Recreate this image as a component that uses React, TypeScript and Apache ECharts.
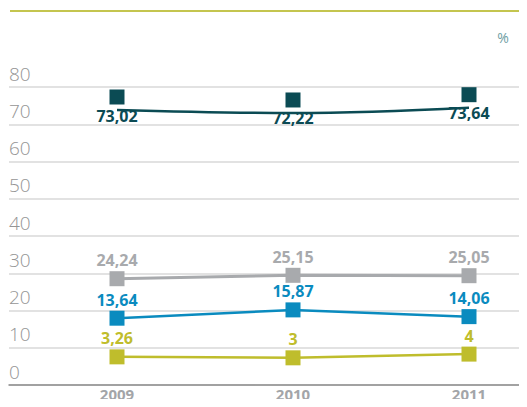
import React, { useEffect, useRef } from "react";
import * as echarts from "echarts";

const years = ["2009", "2010", "2011"];
const seriesDark = [73.02, 72.22, 73.64];
const seriesGrey = [24.24, 25.15, 25.05];
const seriesBlue = [13.64, 15.87, 14.06];
const seriesOlive = [3.26, 3, 4];
const yTicks = [0, 80, 10]; // min, max, interval

const C_DARK = "#0b4b54";
const C_GREY = "#a8aaad";
const C_BLUE = "#0a8bbf";
const C_OLIVE = "#bfbd2c";

const fmt = (v: number) => String(v).replace(".", ",");

export default function App() {
  const ref = useRef<HTMLDivElement>(null);
  useEffect(() => {
    if (!ref.current) return;
    const chart = echarts.init(ref.current, null, { renderer: "svg" });
    const font = "'Open Sans', 'Noto Sans', sans-serif";
    const dataGrid = { left: 117, right: 58, top: 71, height: 298 };
    const catAxis = (gridIndex: number, showLabels: boolean) => ({
      type: "category",
      gridIndex,
      data: years,
      boundaryGap: false,
      axisLine: { show: false },
      axisTick: { show: false },
      splitLine: { show: false },
      axisLabel: showLabels
        ? { show: true, margin: 17, color: "#a3a5a8", fontSize: 15, fontWeight: "bold", fontFamily: font }
        : { show: false },
    });
    const valAxis = (gridIndex: number) => ({
      type: "value",
      gridIndex,
      min: yTicks[0],
      max: yTicks[1],
      interval: yTicks[2],
      axisLine: { show: false },
      axisTick: { show: false },
      splitLine: { show: false },
      axisLabel: { show: false },
    });
    const lbl = (color: string, position: string) => ({
      show: true,
      position,
      distance: 3,
      color,
      fontSize: 16,
      fontWeight: "bold",
      fontFamily: font,
      formatter: (p: any) => fmt(p.value),
    });
    const mkLine = (data: number[], color: string, width: number, pos: string) => ({
      type: "line",
      xAxisIndex: 1,
      yAxisIndex: 1,
      data,
      symbol: "rect",
      symbolSize: 15,
      itemStyle: { color, opacity: 1 },
      lineStyle: { color, width },
      label: lbl(color, pos),
      z: 3,
    });
    chart.setOption({
      animation: false,
      grid: [
        { left: 9, right: 0, top: 87, height: 298 },
        dataGrid,
        { ...dataGrid, top: 71 + 13 },
      ],
      xAxis: [
        {
          type: "value",
          gridIndex: 0,
          min: 0,
          max: 1,
          axisLine: { show: true, onZero: false, lineStyle: { color: "#8c8c8c", width: 1.5 } },
          axisTick: { show: false },
          axisLabel: { show: false },
          splitLine: { show: false },
        },
        catAxis(1, true),
        catAxis(2, false),
      ],
      yAxis: [
        {
          type: "value",
          gridIndex: 0,
          min: yTicks[0],
          max: yTicks[1],
          interval: yTicks[2],
          axisLine: { show: false },
          axisTick: { show: false },
          splitLine: { show: true, lineStyle: { color: "#d9d9d9", width: 1.5 } },
          axisLabel: {
            show: true,
            inside: true,
            margin: 0,
            verticalAlign: "bottom",
            padding: [0, 0, 4, 0],
            color: "#959595",
            fontSize: 19,
            fontWeight: 300,
            fontFamily: font,
          },
        },
        valAxis(1),
        valAxis(2),
      ],
      graphic: [
        {
          type: "line",
          shape: { x1: 10, y1: 11, x2: 527, y2: 11 },
          style: { stroke: "#c4c54f", lineWidth: 2 },
        },
        {
          type: "text",
          x: 503,
          y: 37,
          style: { text: "%", fill: "#6e9ea3", fontSize: 14, fontFamily: font, align: "center", verticalAlign: "middle" },
        },
      ],
      series: [
        {
          type: "line",
          xAxisIndex: 2,
          yAxisIndex: 2,
          data: seriesDark,
          smooth: 0.4,
          symbol: "none",
          lineStyle: { color: C_DARK, width: 2.5 },
          z: 2,
        },
        {
          type: "scatter",
          xAxisIndex: 1,
          yAxisIndex: 1,
          data: seriesDark,
          symbol: "rect",
          symbolSize: 15,
          itemStyle: { color: C_DARK, opacity: 1 },
          label: lbl(C_DARK, "bottom"),
          z: 4,
        },
        mkLine(seriesGrey, C_GREY, 3, "top"),
        mkLine(seriesBlue, C_BLUE, 2.5, "top"),
        mkLine(seriesOlive, C_OLIVE, 2.5, "top"),
      ],
    });
    return () => chart.dispose();
  }, []);
  return <div ref={ref} style={{ width: 527, height: 407, margin: -8 }} />;
}
